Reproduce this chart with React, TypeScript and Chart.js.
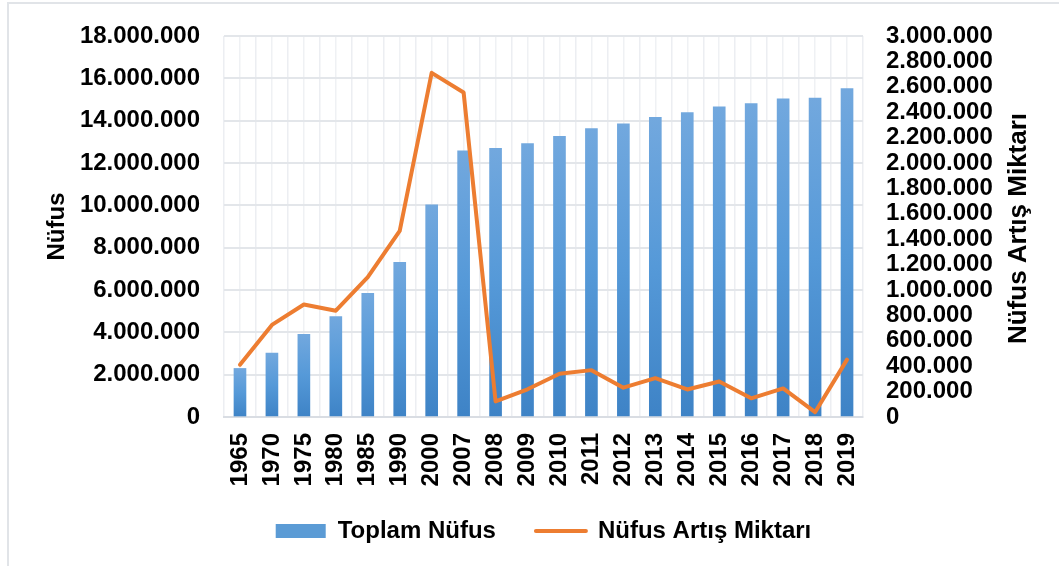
import React, { useEffect, useRef } from 'react';
import { Chart, registerables } from 'chart.js';

Chart.register(...registerables);

const years = ['1965', '1970', '1975', '1980', '1985', '1990', '2000', '2007', '2008', '2009', '2010', '2011', '2012', '2013', '2014', '2015', '2016', '2017', '2018', '2019'];

const toplamNufus = [2294000, 3019000, 3905000, 4742000, 5843000, 7309000, 10019000, 12574000, 12697000, 12915000, 13256000, 13624000, 13855000, 14160000, 14377000, 14657000, 14804000, 15029000, 15068000, 15519000];

const artisMiktari = [412000, 725000, 886000, 837000, 1101000, 1466000, 2710000, 2555000, 123000, 218000, 341000, 369000, 231000, 306000, 217000, 280000, 147000, 225000, 38000, 452000];

const leftTicks = [0, 2000000, 4000000, 6000000, 8000000, 10000000, 12000000, 14000000, 16000000, 18000000];
const rightTicks = [0, 200000, 400000, 600000, 800000, 1000000, 1200000, 1400000, 1600000, 1800000, 2000000, 2200000, 2400000, 2600000, 2800000, 3000000];

const barLabel = 'Toplam Nüfus';
const lineLabel = 'Nüfus Artış Miktarı';
const leftAxisTitle = 'Nüfus';
const rightAxisTitle = 'Nüfus Artış Miktarı';

const FONT = '"Liberation Sans", Arial, sans-serif';
const fmt = (v: number) => String(Math.round(v)).replace(/\B(?=(\d{3})+(?!\d))/g, '.');

const rightTitlePlugin = {
  id: 'rightTitle',
  afterLayout(chart: any) {
    // let the rotated x labels extend below the axis box without being clipped
    const xs = chart.scales.x;
    if (xs) xs.bottom = xs.top + 95;
  },
  afterDraw(chart: any) {
    const { ctx, chartArea } = chart;
    ctx.save();
    ctx.translate(1019, (chartArea.top + chartArea.bottom) / 2 + 2);
    ctx.rotate(-Math.PI / 2);
    ctx.font = `bold 26px ${FONT}`;
    ctx.fillStyle = '#000';
    ctx.textAlign = 'center';
    ctx.textBaseline = 'middle';
    ctx.fillText(rightAxisTitle, 0, 0);
    ctx.restore();
  },
};

export default function App() {
  const ref = useRef<HTMLCanvasElement>(null);

  useEffect(() => {
    const chart = new Chart(ref.current as HTMLCanvasElement, {
      type: 'bar',
      data: {
        labels: years,
        datasets: [
          {
            type: 'bar',
            label: barLabel,
            data: toplamNufus,
            yAxisID: 'y',
            xAxisID: 'x',
            order: 1,
            barThickness: 12,
            borderWidth: 0,
            pointStyle: 'rect',
            backgroundColor: (c: any) => {
              const ch = c.chart;
              const area = ch.chartArea;
              if (!area || c.type !== 'data' || !ch.scales.y) return '#5b9bd5';
              const top = ch.scales.y.getPixelForValue(c.raw as number);
              const g = ch.ctx.createLinearGradient(0, top, 0, area.bottom);
              g.addColorStop(0, '#72a8de');
              g.addColorStop(0.5, '#5599d8');
              g.addColorStop(1, '#3e83c6');
              return g;
            },
          } as any,
          {
            type: 'line',
            label: lineLabel,
            data: artisMiktari,
            yAxisID: 'y1',
            xAxisID: 'x',
            order: 0,
            borderColor: '#ed7d31',
            backgroundColor: '#ed7d31',
            borderWidth: 4,
            pointRadius: 0,
            tension: 0,
            borderCapStyle: 'round',
            borderJoinStyle: 'round',
            pointStyle: 'line',
          } as any,
        ],
      },
      options: {
        responsive: false,
        animation: false,
        events: [],
        layout: { padding: { top: 33, bottom: 13, left: 0, right: 0 } },
        plugins: {
          tooltip: { enabled: false },
          legend: {
            position: 'bottom',
            fullSize: false,
            labels: {
              usePointStyle: true,
              pointStyleWidth: 50,
              boxHeight: 14,
              padding: 40,
              color: '#000',
              font: { family: FONT, size: 24, weight: 'bold' },
              generateLabels: (ch: any) => {
                const items = (Chart.defaults.plugins.legend.labels.generateLabels as any)(ch);
                items.sort((a: any, b: any) => a.datasetIndex - b.datasetIndex);
                return items.map((it: any) =>
                  it.datasetIndex === 0
                    ? { ...it, fillStyle: '#5b9bd5', strokeStyle: '#5b9bd5', lineWidth: 0, pointStyle: 'rect' }
                    : { ...it, fillStyle: '#ed7d31', strokeStyle: '#ed7d31', lineWidth: 4, lineCap: 'round', pointStyle: 'line' }
                );
              },
            },
          },
        },
        scales: {
          x: {
            type: 'category',
            position: 'bottom',
            offset: true,
            afterFit: (s: any) => { s.height = 62; },
            grid: { display: true, offset: true, color: '#eceef2', lineWidth: 1.5, drawTicks: false },
            border: { display: true, color: '#d9dde3', width: 2 },
            ticks: {
              autoSkip: false,
              minRotation: 90,
              maxRotation: 90,
              padding: 16,
              color: '#000',
              font: { family: FONT, size: 24, weight: 'bold', lineHeight: 1 },
            },
          },
          x2: {
            type: 'category',
            position: 'top',
            offset: true,
            grid: { display: true, offset: false, color: '#eff1f4', lineWidth: 1.5, drawTicks: false },
            border: { display: false },
            ticks: { display: false },
          },
          y: {
            type: 'linear',
            position: 'left',
            min: 0,
            max: 18000000,
            afterFit: (s: any) => { s.width = 224; },
            afterBuildTicks: (s: any) => { s.ticks = leftTicks.map((v) => ({ value: v })); },
            grid: { color: '#e3e6ea', lineWidth: 2, drawTicks: false },
            border: { display: false },
            title: {
              display: true,
              text: leftAxisTitle,
              color: '#000',
              font: { family: FONT, size: 24, weight: 'bold' },
              padding: { top: 43, bottom: 0 },
            },
            ticks: {
              padding: 24,
              color: '#000',
              font: { family: FONT, size: 24, weight: 'bold', lineHeight: 1 },
              callback: (v: any) => fmt(Number(v)),
            },
          },
          y1: {
            type: 'linear',
            position: 'right',
            min: 0,
            max: 3000000,
            afterFit: (s: any) => { s.width = 196; },
            afterBuildTicks: (s: any) => { s.ticks = rightTicks.map((v) => ({ value: v })); },
            grid: { display: false, drawTicks: false },
            border: { display: false },
            ticks: {
              autoSkip: false,
              padding: 23,
              color: '#000',
              font: { family: FONT, size: 24, weight: 'bold', lineHeight: 1 },
              callback: (v: any) => fmt(Number(v)),
            },
          },
        },
      },
      plugins: [rightTitlePlugin],
    } as any);
    return () => chart.destroy();
  }, []);

  return (
    <div style={{ position: 'absolute', left: 0, top: 0, width: 1059, height: 566, background: '#fff', overflow: 'hidden' }}>
      <div
        style={{
          position: 'absolute',
          left: 7,
          top: 2,
          right: 0,
          bottom: 0,
          borderTop: '2px solid #e1e4e8',
          borderLeft: '2px solid #e1e4e8',
        }}
      />
      <canvas ref={ref} width={1059} height={566} style={{ position: 'absolute', left: 0, top: 0 }} />
    </div>
  );
}
